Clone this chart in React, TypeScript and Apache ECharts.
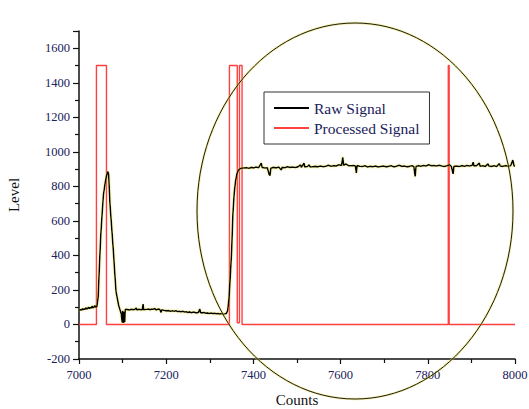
import React, { useEffect, useRef } from "react";
import * as echarts from "echarts";

const xTicks = { min: 7000, max: 8000, interval: 200 };
const yTicks = { min: -200, max: 1700, interval: 200 };

const rawSignal: [number, number][] = [
  [7000, 82], [7003, 85], [7006, 84], [7008, 92], [7010, 86], [7012, 90], [7014, 88], [7016, 97],
  [7018, 89], [7020, 93], [7022, 100], [7024, 92], [7026, 98], [7028, 94], [7030, 106], [7032, 96],
  [7034, 99], [7036, 110], [7038, 100], [7041, 104],
  [7044, 160], [7047, 350], [7050, 520], [7053, 640], [7056, 750], [7060, 820], [7063, 860], [7066, 886],
  [7068, 870], [7071, 700], [7075, 560], [7079, 420], [7082, 300], [7085, 190], [7088, 150], [7091, 110],
  [7094, 85], [7097, 60], [7099, 12], [7100, 80], [7101, 8], [7102, 75], [7103, 10], [7104, 70],
  [7105, 15], [7106, 85], [7108, 88],
  [7112, 86], [7116, 84], [7120, 88], [7124, 86], [7128, 87], [7131, 96], [7133, 84], [7137, 88],
  [7141, 86], [7145, 85], [7147, 118], [7148, 86], [7152, 87], [7156, 88], [7160, 90], [7163, 85],
  [7166, 89], [7170, 88], [7174, 92], [7177, 84], [7180, 88], [7183, 90], [7186, 84], [7188, 70],
  [7190, 85], [7194, 82], [7198, 80], [7202, 79], [7206, 80], [7210, 76], [7214, 79], [7218, 77],
  [7222, 80], [7226, 75], [7230, 76], [7234, 74], [7238, 76], [7242, 72], [7246, 74], [7250, 70],
  [7254, 73], [7258, 68], [7262, 72], [7266, 70], [7270, 66], [7274, 71], [7277, 90], [7279, 68],
  [7283, 67], [7287, 69], [7291, 65], [7295, 67], [7299, 64], [7303, 66], [7307, 63], [7311, 65],
  [7315, 62], [7319, 64], [7323, 61], [7327, 63], [7331, 60], [7335, 62], [7338, 64],
  [7341, 80], [7344, 150], [7347, 280], [7350, 420], [7353, 640], [7356, 760], [7359, 830], [7362, 870],
  [7365, 890], [7368, 900], [7372, 905],
  [7376, 906], [7384, 908], [7390, 905], [7396, 910], [7400, 907], [7406, 912], [7412, 908], [7418, 935],
  [7420, 910], [7426, 906], [7432, 908], [7436, 870], [7438, 862], [7440, 905], [7446, 910], [7452, 907],
  [7458, 912], [7464, 895], [7466, 910], [7472, 908], [7478, 914], [7484, 910], [7490, 912], [7496, 909],
  [7502, 913], [7508, 925], [7510, 910], [7516, 934], [7518, 912], [7524, 915], [7528, 925], [7530, 912],
  [7536, 914], [7542, 916], [7548, 913], [7554, 918], [7560, 914], [7566, 917], [7572, 922], [7578, 916],
  [7584, 920], [7590, 918], [7596, 925], [7602, 921], [7605, 968], [7607, 922], [7612, 930], [7618, 920],
  [7624, 919], [7630, 920], [7634, 918], [7636, 878], [7638, 920], [7644, 917], [7650, 915], [7656, 919],
  [7662, 912], [7668, 916], [7674, 914], [7680, 918], [7686, 912], [7692, 915], [7698, 918], [7704, 913],
  [7710, 916], [7716, 920], [7722, 913], [7728, 917], [7734, 922], [7740, 916], [7746, 918], [7752, 913],
  [7758, 916], [7764, 920], [7768, 914], [7771, 858], [7773, 915], [7778, 920], [7784, 917], [7790, 921],
  [7796, 918], [7802, 925], [7808, 919], [7814, 921], [7820, 918], [7826, 922], [7832, 918], [7838, 915],
  [7844, 920], [7850, 925], [7854, 915], [7858, 872], [7860, 916], [7866, 918], [7872, 915], [7878, 920],
  [7884, 917], [7890, 921], [7896, 918], [7902, 922], [7904, 940], [7906, 918], [7912, 920], [7918, 935],
  [7920, 917], [7926, 919], [7932, 916], [7938, 930], [7940, 918], [7946, 916], [7952, 919], [7958, 915],
  [7964, 932], [7966, 918], [7972, 916], [7978, 920], [7984, 917], [7990, 919], [7995, 952], [7998, 918],
  [8000, 916],
];

const processedSignal: [number, number][] = [
  [7000, 0], [7040, 0], [7040, 1500], [7063, 1500], [7063, 0], [7345, 0], [7345, 1500], [7363, 1500],
  [7363, 10], [7368, 10], [7368, 1500], [7374, 1500], [7374, 0], [7847, 0], [7847, 1500], [7849, 1500],
  [7849, 0], [8000, 0],
];

const seriesNames = ["Raw Signal", "Processed Signal"];
const axisNames = { x: "Counts", y: "Level" };

const FONT = "'Liberation Serif', 'Times New Roman', serif";
const LABEL_COLOR = "#20205a";

export default function App() {
  const ref = useRef<HTMLDivElement>(null);
  useEffect(() => {
    if (!ref.current) return;
    const chart = echarts.init(ref.current, null, { renderer: "svg" });
    chart.setOption({
      animation: false,
      backgroundColor: "#ffffff",
      grid: { left: 79, right: 14, top: 31, bottom: 50, containLabel: false, outerBoundsMode: "none" },
      legend: {
        orient: "vertical",
        left: 264,
        top: 92,
        padding: [8, 10, 8, 10],
        itemGap: 4,
        itemWidth: 35,
        itemHeight: 2,
        borderColor: "#333",
        borderWidth: 1,
        icon: "rect",
        textStyle: { fontFamily: FONT, fontSize: 15.5, color: LABEL_COLOR },
        data: seriesNames,
      },
      xAxis: {
        type: "value",
        min: xTicks.min,
        max: xTicks.max,
        interval: xTicks.interval,
        name: axisNames.x,
        nameLocation: "middle",
        nameGap: 33,
        nameTextStyle: { fontFamily: FONT, fontSize: 15, color: "#111" },
        axisLine: { show: true, onZero: false, lineStyle: { color: "#111", width: 1.5 } },
        axisTick: { show: true, length: 5, lineStyle: { color: "#111", width: 1.2 } },
        minorTick: { show: true, splitNumber: 2, length: 4, lineStyle: { color: "#111", width: 1.2 } },
        splitLine: { show: false },
        axisLabel: {
          fontFamily: FONT, fontSize: 12.5, color: LABEL_COLOR, margin: 9,
          formatter: (v: number) => String(v),
        },
      },
      yAxis: {
        type: "value",
        min: yTicks.min,
        max: yTicks.max,
        interval: yTicks.interval,
        name: axisNames.y,
        nameLocation: "middle",
        nameGap: 58,
        nameTextStyle: { fontFamily: FONT, fontSize: 15, color: "#111" },
        axisLine: { show: true, onZero: false, lineStyle: { color: "#111", width: 1.5 } },
        axisTick: { show: true, length: 6, lineStyle: { color: "#111", width: 1.2 } },
        minorTick: { show: true, splitNumber: 2, length: 4, lineStyle: { color: "#111", width: 1.2 } },
        splitLine: { show: false },
        axisLabel: {
          fontFamily: FONT, fontSize: 12.5, color: LABEL_COLOR, margin: 9, showMaxLabel: false,
          formatter: (v: number) => String(v),
        },
      },
      series: [
        {
          name: seriesNames[1],
          type: "line",
          data: processedSignal,
          showSymbol: false,
          symbol: "none",
          color: "#ff4040",
          lineStyle: { color: "#ff4040", width: 1.4 },
          z: 2,
        },
        {
          name: seriesNames[0],
          type: "line",
          data: rawSignal,
          showSymbol: false,
          symbol: "none",
          color: "#000000",
          lineStyle: { color: "#000000", width: 1.6, shadowColor: "rgba(225,215,60,0.6)", shadowBlur: 2 },
          z: 3,
        },
      ],
      graphic: [
        {
          type: "ellipse",
          shape: { cx: 355, cy: 211, rx: 158, ry: 188 },
          style: { fill: "none", stroke: "rgba(230,220,80,0.5)", lineWidth: 2.4 },
          z: 100,
          silent: true,
        },
        {
          type: "ellipse",
          shape: { cx: 355, cy: 211, rx: 158, ry: 188 },
          style: { fill: "none", stroke: "#1e1e10", lineWidth: 1 },
          z: 101,
          silent: true,
        },
      ],
    });
    return () => chart.dispose();
  }, []);
  return (
    <div
      ref={ref}
      style={{ position: "fixed", left: 0, top: 0, width: 529, height: 409, background: "#fff" }}
    />
  );
}
